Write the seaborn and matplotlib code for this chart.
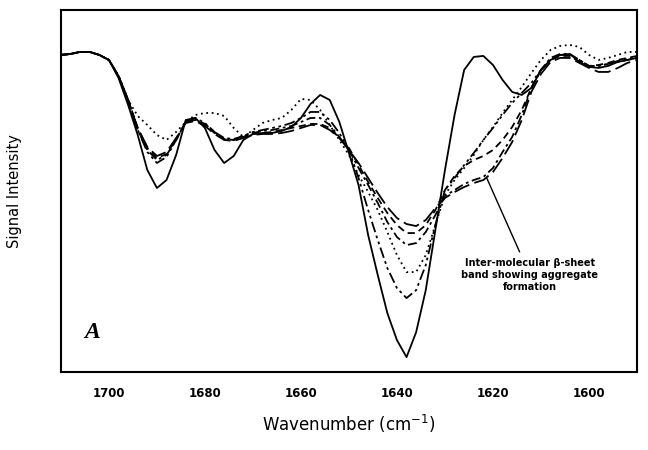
import matplotlib
matplotlib.use("Agg")
from matplotlib import pyplot as plt
import seaborn as sns
import pandas as pd

# x grid (cm^-1), high to low
wavenumber = list(range(1710, 1589, -2))

# signal intensity (arbitrary units)
native = [317, 318, 320, 320, 317, 312, 294, 267, 237, 202, 184, 192, 217, 252, 254, 244,
          222, 209, 216, 232, 238, 239, 239, 241, 245, 254, 268, 277, 272, 250, 219, 187,
          137, 97, 59, 32, 15, 40, 82, 142, 202, 257, 302, 315, 316, 307, 292, 280,
          277, 284, 302, 312, 317, 318, 310, 305, 304, 306, 310, 312, 314]
dotted = [317, 318, 320, 320, 317, 312, 296, 272, 256, 247, 237, 232, 240, 250, 257, 259,
          259, 256, 244, 235, 242, 249, 252, 254, 262, 273, 272, 262, 247, 232, 217, 197,
          180, 162, 140, 117, 100, 100, 117, 147, 177, 192, 204, 217, 232, 245, 259, 272,
          285, 299, 312, 322, 326, 327, 325, 317, 312, 314, 317, 320, 320]
dashdotdot = [317, 318, 320, 320, 317, 312, 296, 272, 242, 220, 209, 215, 232, 250, 254, 249,
              240, 233, 232, 236, 240, 242, 244, 246, 249, 254, 260, 260, 252, 239, 222, 194,
              162, 132, 104, 84, 74, 82, 107, 147, 182, 194, 207, 219, 232, 244, 257, 269,
              279, 289, 302, 312, 317, 317, 312, 306, 306, 308, 311, 313, 315]
dashdot = [317, 318, 320, 320, 317, 312, 296, 272, 242, 222, 212, 217, 232, 250, 253, 248,
           240, 234, 233, 236, 239, 241, 242, 244, 246, 250, 254, 254, 247, 235, 222, 204,
           187, 169, 150, 135, 127, 129, 140, 157, 176, 182, 188, 192, 195, 204, 220, 235,
           257, 284, 302, 314, 318, 318, 312, 306, 306, 308, 310, 312, 314]
dashed = [317, 318, 320, 320, 317, 312, 296, 272, 244, 224, 214, 218, 233, 250, 252, 247,
          239, 233, 232, 235, 238, 239, 240, 242, 244, 246, 248, 248, 244, 234, 224, 207,
          190, 174, 159, 147, 139, 139, 147, 162, 182, 196, 206, 212, 216, 222, 232, 245,
          262, 284, 302, 312, 316, 316, 310, 306, 307, 309, 312, 314, 316]
longdash = [317, 318, 320, 320, 317, 312, 296, 272, 244, 225, 216, 220, 234, 249, 251, 246,
            238, 232, 231, 234, 237, 238, 238, 239, 241, 244, 247, 247, 242, 234, 222, 209,
            194, 179, 165, 154, 148, 146, 152, 164, 174, 180, 185, 189, 192, 200, 214, 230,
            252, 280, 298, 310, 314, 314, 309, 304, 300, 300, 304, 309, 312]

curves = {'native': native, 'dotted': dotted, 'dashdotdot': dashdotdot,
          'dashdot': dashdot, 'dashed': dashed, 'longdash': longdash}
dash_map = {'native': '', 'dotted': (1, 2), 'dashdotdot': (6, 2, 1.5, 2, 1.5, 2),
            'dashdot': (5, 2, 1.5, 2), 'dashed': (4, 2.5), 'longdash': (9, 3)}

frames = []
for name, vals in curves.items():
    df = pd.DataFrame({'Wavenumber': wavenumber, 'Signal': vals})
    df['Sample'] = name
    frames += [df]
df = pd.concat(frames)

sns.set_style("white")
plt.rcParams['font.family'] = ['DejaVu Sans']
plt.rcParams['text.color'] = 'black'
plt.rcParams['axes.labelcolor'] = 'black'

fig = plt.figure(figsize=(6.48, 4.5), dpi=100)
ax = fig.add_axes([0.094, 0.173, 0.889, 0.805])
sns.lineplot(data=df, x='Wavenumber', y='Signal', hue='Sample', style='Sample',
             palette=['black'] * len(curves), dashes=dash_map, linewidth=1.3,
             legend=False, sort=False, ax=ax)

ax.set_xlim(1710, 1590)
ax.set_ylim(0, 362)
ax.set_yticks([])
ax.set_xticks([1700, 1680, 1660, 1640, 1620, 1600])
ax.set_xticklabels(['1700', '1680', '1660', '1640', '1620', '1600'], fontsize=8.5, fontweight='bold')
ax.tick_params(axis='x', direction='out', length=5, width=1.5, pad=6, colors='black')
for sp in ax.spines.values():
    sp.set_linewidth(1.5)
    sp.set_color('black')

ax.set_xlabel('Wavenumber (cm$^{-1}$)', fontsize=12, labelpad=9)
ax.set_ylabel('Signal Intensity', fontsize=10.5, labelpad=28)

ax.text(1703.5, 40, 'A', fontsize=17, fontweight='bold', fontstyle='italic',
        family=['Liberation Serif', 'DejaVu Serif'], ha='center', va='center')

ax.annotate('Inter-molecular β-sheet\nband showing aggregate\nformation',
            xy=(1621.3, 194), xytext=(1612.3, 97), fontsize=7, fontweight='bold',
            color='black', ha='center', va='center', linespacing=1.3,
            arrowprops=dict(arrowstyle='-', color='black', lw=1, shrinkA=2, shrinkB=0))

plt.savefig('out.png', dpi=100)
